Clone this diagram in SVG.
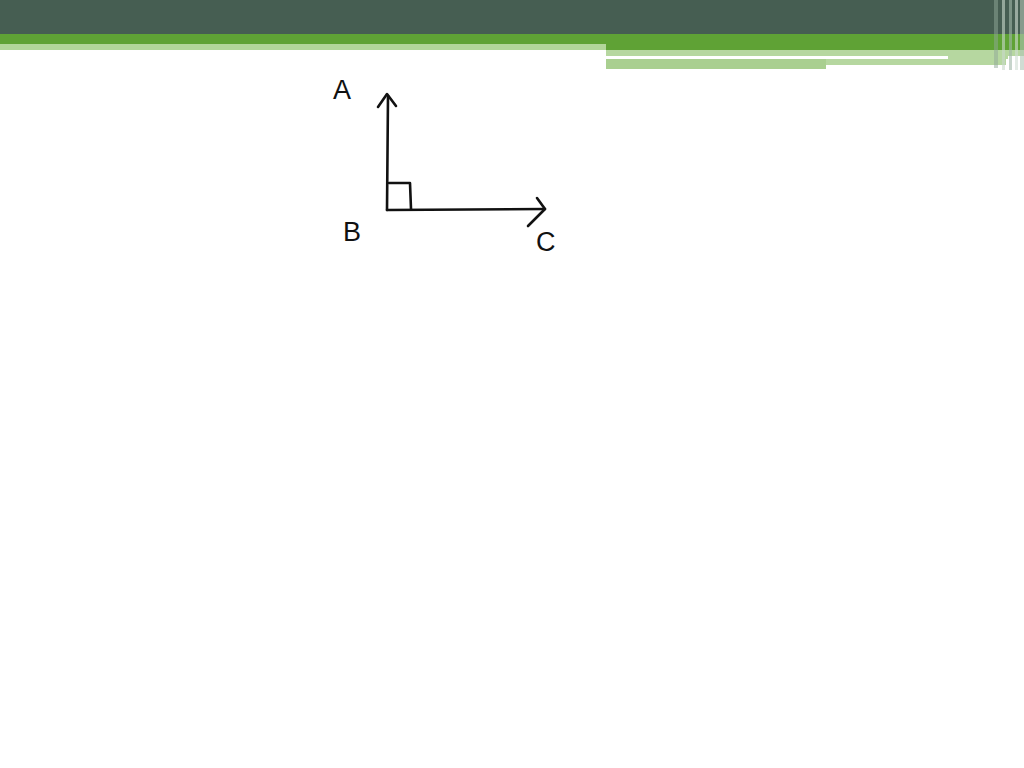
<svg xmlns="http://www.w3.org/2000/svg" width="1024" height="768" viewBox="0 0 1024 768">
<style>
.ln{stroke:#111;stroke-width:2.6;fill:none;stroke-linecap:round;stroke-linejoin:round}
.lb{font-family:"Liberation Sans",Arial,sans-serif;font-size:27px;fill:#111}
</style>
<rect width="1024" height="768" fill="#fff"/>
<g id="header">
<rect x="0" y="0" width="1024" height="34" fill="#465e52"/>
<rect x="0" y="34" width="1024" height="10" fill="#5fa235"/>
<rect x="0" y="44" width="606" height="6" fill="#b2d69a"/>
<rect x="606" y="44" width="418" height="6" fill="#5fa235"/>
<rect x="606" y="50" width="418" height="6" fill="#b6d7a0"/>
<rect x="606" y="56" width="342" height="3" fill="#fff"/>
<rect x="948" y="56" width="60" height="3" fill="#b6d7a0"/>
<rect x="606" y="59" width="220" height="10" fill="#a9cf90"/>
<rect x="826" y="59" width="180" height="6" fill="#b6d7a0"/>
<rect x="994" y="0" width="4" height="68" fill="#8fa898" opacity="0.5"/>
<rect x="1002" y="0" width="3" height="70" fill="#c8d8cc" opacity="0.6"/>
<rect x="1009" y="0" width="3" height="70" fill="#a0b8a8" opacity="0.6"/>
<rect x="1015" y="0" width="3" height="70" fill="#d0ddd4" opacity="0.6"/>
<rect x="1020" y="0" width="4" height="70" fill="#b0c4b6" opacity="0.6"/>
</g>
<g id="connectors">
<path class="ln" d="M388 96 L387 210"/>
<path class="ln" d="M378 107 L387 94 L396 106"/>
<path class="ln" d="M387 210 L545 209"/>
<path class="ln" d="M537 198 L545 209 L528 226"/>
<path class="ln" d="M389 183 L410 183 L411 209"/>
</g>
<g id="node-A"><text class="lb" x="333" y="99">A</text></g>
<g id="node-B"><text class="lb" x="343" y="241">B</text></g>
<g id="node-C"><text class="lb" x="536" y="251">C</text></g>
</svg>
